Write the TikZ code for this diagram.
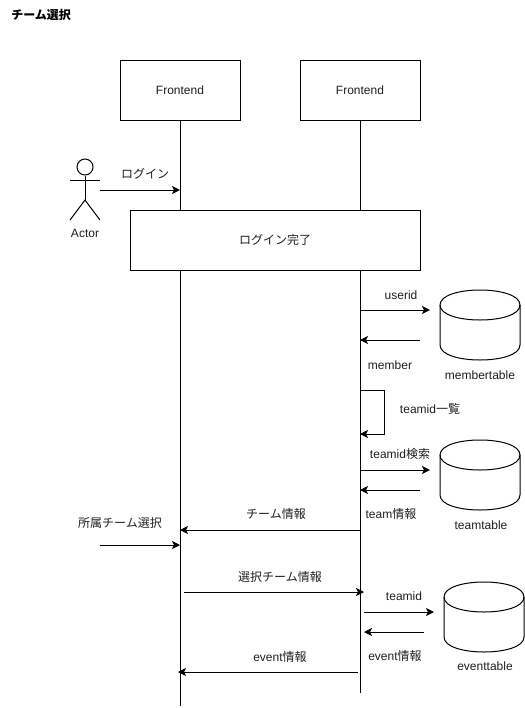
\documentclass[tikz,border=0pt]{standalone}
\usepackage{fontspec}
\setmainfont{Liberation Sans}
\newfontfamily\cjk{Noto Sans CJK JP}
\usetikzlibrary{arrows.meta}
\tikzset{
  lbl/.style={inner sep=0pt,font=\fontsize{9pt}{10pt}\selectfont,text=black!88},
  box/.style={draw,fill=white,line width=0.75pt,inner sep=0pt,font=\fontsize{9pt}{10pt}\selectfont,text=black!88},
  line/.style={line width=0.75pt},
  msg/.style={line width=0.75pt,-{Stealth[length=6pt,width=6pt,inset=1.5pt]}},
  dbshape/.style={line width=0.75pt}
}
\newcommand{\dbcyl}[3]{% x left, y top, height ; width 80
  \draw[dbshape] (#1,#2+15) .. controls (#1,#2-5) and (#1+80,#2-5) .. (#1+80,#2+15)
    -- (#1+80,#2+#3-15) .. controls (#1+80,#2+#3+5) and (#1,#2+#3+5) .. (#1,#2+#3-15) -- cycle;
  \draw[dbshape] (#1,#2+15) .. controls (#1,#2+35) and (#1+80,#2+35) .. (#1+80,#2+15);
}
\begin{document}
\begin{tikzpicture}[x=0.75pt,y=-0.75pt]
\useasboundingbox (0,0) rectangle (525,708);
\node[anchor=west,inner sep=0pt,font=\fontsize{9pt}{10pt}\selectfont\cjk\bfseries] (title) at (11,15) {チーム選択};
% lifelines
\node[box,minimum width=90pt,minimum height=45pt] (fe1) at (180,90) {Frontend};
\node[box,minimum width=90pt,minimum height=45pt] (fe2) at (360,90) {Frontend};
\coordinate (end1) at (180,706);
\coordinate (end2) at (360,693);
\draw[line] (fe1.south) -- (end1);
\draw[line] (fe2.south) -- (end2);
\node[box,minimum width=217.5pt,minimum height=45pt,font=\fontsize{9pt}{10pt}\selectfont\cjk] (done) at (275,240) {ログイン完了};
% actor
\node[draw,circle,line width=0.75pt,minimum size=12pt,inner sep=0pt] (head) at (85,167) {};
\coordinate (hip) at (85,200);
\coordinate (armL) at (70,180);
\coordinate (armR) at (100,180);
\coordinate (legL) at (70,220);
\coordinate (legR) at (100,220);
\draw[line] (head.south) -- (hip);
\draw[line] (armL) -- (armR);
\draw[line] (legL) -- (hip) -- (legR);
\node[lbl] (actor) at (85,233) {Actor};
% cylinders
\dbcyl{440}{290}{70}
\dbcyl{440}{440}{70}
\dbcyl{444}{582}{70}
\node[lbl] (mt) at (480,375) {membertable};
\node[lbl] (tt) at (481,525) {teamtable};
\node[lbl] (et) at (485,666) {eventtable};
% endpoints
\foreach \n/\x/\y in {a1/100/190,a2/180/190,b1/360/310,b2/430/310,c1/420/340,c2/360/340,
  d1/360/390,d2/384/390,d3/384/434,d4/360/434,e1/360/470,e2/430/470,f1/420/490,f2/360/490,
  g1/360/530,g2/180/530,h1/100/545,h2/180/545,i1/184/592,i2/364/592,j1/364/612,j2/434/612,
  k1/424/632,k2/364/632,l1/358/672,l2/178/672}
  \coordinate (\n) at (\x,\y);
\draw[msg] (a1) -- (a2);
\draw[msg] (b1) -- (b2);
\draw[msg] (c1) -- (c2);
\draw[msg] (d1) -- (d2) -- (d3) -- (d4);
\draw[msg] (e1) -- (e2);
\draw[msg] (f1) -- (f2);
\draw[msg] (g1) -- (g2);
\draw[msg] (h1) -- (h2);
\draw[msg] (i1) -- (i2);
\draw[msg] (j1) -- (j2);
\draw[msg] (k1) -- (k2);
\draw[msg] (l1) -- (l2);
% labels
\node[lbl] (t1) at (145,174) {\cjk ログイン};
\node[lbl] (t2) at (401,295) {userid};
\node[lbl] (t3) at (390,365) {member};
\node[lbl] (t4) at (430,409) {teamid\cjk 一覧};
\node[lbl] (t5) at (400,454) {teamid\cjk 検索};
\node[lbl] (t6) at (391,514) {team\cjk 情報};
\node[lbl] (t7) at (276,514) {\cjk チーム情報};
\node[lbl] (t8) at (120,523) {\cjk 所属チーム選択};
\node[lbl] (t9) at (280,577) {\cjk 選択チーム情報};
\node[lbl] (t10) at (404,596) {teamid};
\node[lbl] (t11) at (395,656) {event\cjk 情報};
\node[lbl] (t12) at (280,657) {event\cjk 情報};
\end{tikzpicture}
\end{document}
